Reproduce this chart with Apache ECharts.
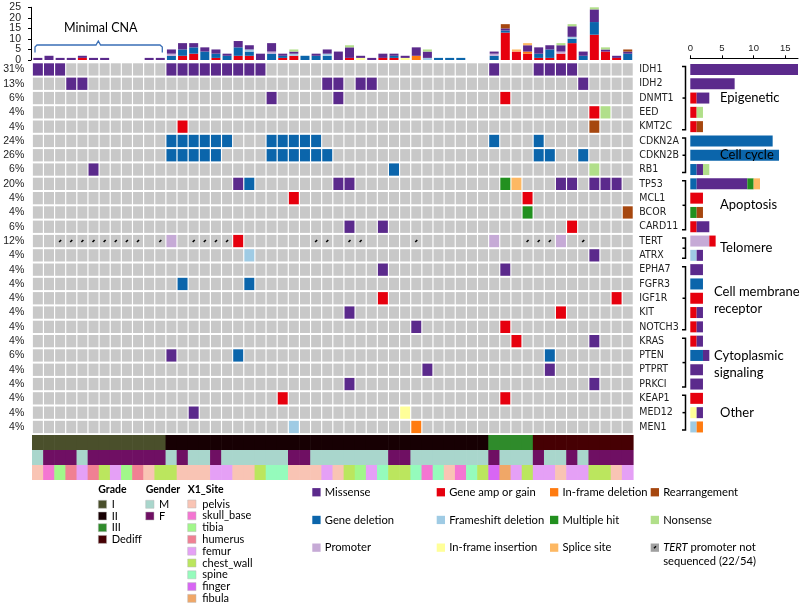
<!DOCTYPE html>
<html><head><meta charset="utf-8">
<script src="https://cdn.jsdelivr.net/npm/echarts@6/dist/echarts.min.js"></script>
<style>html,body{margin:0;padding:0;background:#fff}#c{width:800px;height:606px}</style>
</head><body><div id="c"></div>
<script>
// ---------------- DATA ----------------
const genes = ['IDH1','IDH2','DNMT1','EED','KMT2C','CDKN2A','CDKN2B','RB1','TP53','MCL1','BCOR','CARD11','TERT','ATRX','EPHA7','FGFR3','IGF1R','KIT','NOTCH3','KRAS','PTEN','PTPRT','PRKCI','KEAP1','MED12','MEN1'];
const pctLabels = ['31%','13%','6%','4%','4%','24%','26%','6%','20%','4%','4%','6%','12%','4%','4%','4%','4%','4%','4%','4%','6%','4%','4%','4%','4%','4%'];
const nSamples = 54;
const sampleIds = Array.from({length: nSamples}, (_, i) => 'S' + (i + 1));

// alteration types
const typeKeys = ['MIS','DEL','PRO','AMP','FS','INS','IND','MUL','SPL','REA','NON'];
const typeNames = {MIS:'Missense',DEL:'Gene deletion',PRO:'Promoter',AMP:'Gene amp or gain',FS:'Frameshift deletion',INS:'In-frame insertion',IND:'In-frame deletion',MUL:'Multiple hit',SPL:'Splice site',REA:'Rearrangement',NON:'Nonsense'};
const typeColors = {MIS:'#5b2a8c',DEL:'#0b65ab',PRO:'#c6aad6',AMP:'#e6000e',FS:'#9fcbe4',INS:'#ffff99',IND:'#ff7b10',MUL:'#22901f',SPL:'#fdb863',REA:'#a6470f',NON:'#b1df8a'};

// per-gene alterations: sample (column) indices per type
const geneAlts = [
  {MIS:[0,1,2,12,13,14,15,16,17,18,19,20,41,45,46,47,48]},   // IDH1
  {MIS:[3,4,26,27,29,30,49]},                                 // IDH2
  {AMP:[42], MIS:[21,27]},                                    // DNMT1
  {AMP:[50], NON:[51]},                                       // EED
  {AMP:[13], REA:[50]},                                       // KMT2C
  {DEL:[12,13,14,15,16,17,21,22,23,24,25,41,45]},             // CDKN2A
  {DEL:[12,13,14,15,16,21,22,23,24,25,26,45,46,49]},          // CDKN2B
  {DEL:[32], MIS:[5], NON:[50]},                              // RB1
  {DEL:[19], MIS:[18,27,28,47,48,50,51,52], MUL:[42], SPL:[43]}, // TP53
  {AMP:[23,44]},                                              // MCL1
  {MUL:[44], REA:[53]},                                       // BCOR
  {AMP:[48], MIS:[28,31]},                                    // CARD11
  {PRO:[12,41,47], AMP:[18]},                                 // TERT
  {FS:[19], MIS:[50]},                                        // ATRX
  {MIS:[31,42]},                                              // EPHA7
  {DEL:[13,19]},                                              // FGFR3
  {AMP:[31,52]},                                              // IGF1R
  {AMP:[47], MIS:[28]},                                       // KIT
  {AMP:[42], MIS:[34]},                                       // NOTCH3
  {AMP:[43], MIS:[50]},                                       // KRAS
  {DEL:[18,46], MIS:[12]},                                    // PTEN
  {MIS:[35,46]},                                              // PTPRT
  {MIS:[28,50]},                                              // PRKCI
  {AMP:[22,42]},                                              // KEAP1
  {INS:[33], MIS:[14]},                                       // MED12
  {FS:[23], IND:[34]}                                         // MEN1
];
// TERT promoter not sequenced (22/54)
const tertNotSeq = [2,3,4,5,6,7,8,9,11,14,15,16,17,25,26,28,29,34,44,45,46,49];

// top bar chart: total alterations per sample, by type
const topAMP = [0,0,0,0,1,0,0,0,0,0,0,0, 0,2,3,0,1,0,2,2,0,0,1,2,0,0,0,0,1,0,0,1,1,0,0,0,0,0,0,0,0, 0,13,4,3, 1,1,3,8,0,12,4,1,0];
const topDEL = [0,0,0,0,0,0,0,0,0,0,0,0, 2,3,3,4,2,2,4,2,0,3,1,0,2,2,2,0,0,0,0,0,1,0,0,0,1,1,1,0,0, 2,1,0,0, 2,4,0,2,2,6,0,0,3];
const topFS  = [0,0,0,0,0,0,0,0,0,0,0,0, 0,0,0,0,0,0,0,1,0,0,0,1,0,0,1,0,0,0,0,0,0,0,0,1,0,0,0,0,0, 0,0,0,0, 0,0,0,1,0,0,0,0,0];
const topPRO = [0,0,0,0,0,0,0,0,0,0,0,0, 1,0,0,0,0,0,0,0,0,1,0,0,0,0,0,0,0,0,0,0,0,0,0,0,0,0,0,0,0, 1,0,0,0, 0,0,1,0,0,0,0,0,0];
const topINS = [0,0,0,0,0,0,0,0,0,0,0,0, 0,0,0,0,0,0,0,0,0,0,0,0,0,0,0,0,0,1,0,0,0,1,0,0,0,0,0,0,0, 0,0,0,0, 0,0,0,0,0,0,0,0,0];
const topIND = [0,0,0,0,0,0,0,0,0,0,0,0, 0,0,0,0,0,0,0,0,0,0,0,0,0,0,0,0,0,0,0,0,0,0,2,0,0,0,0,0,0, 0,0,0,1, 0,0,0,0,0,0,0,0,0];
const topMIS = [1,2,1,1,1,1,1,0,0,0,1,1, 2,3,2,2,2,1,3,2,3,4,1,1,0,1,2,4,5,1,1,2,1,1,4,3,0,0,0,0,0, 1,1,0,3, 3,2,3,5,2,6,1,1,1];
const topMUL = [0,0,0,0,0,0,0,0,0,0,0,0, 0,0,0,0,0,0,0,0,0,0,0,0,0,0,0,0,0,0,0,0,0,0,0,0,0,0,0,0,0, 0,0,0,0, 0,0,0,0,0,0,0,0,0];
const topSPL = [0,0,0,0,0,0,0,0,0,0,0,0, 0,0,0,0,0,0,0,0,0,0,0,0,0,0,0,0,0,0,0,0,0,0,0,0,0,0,0,0,0, 0,0,1,1, 0,0,0,0,0,0,0,0,0];
const topNON = [0,0,0,0,0,0,0,0,0,0,0,0, 0,0,0,0,0,0,0,0,0,0,0,1,0,0,0,0,1,0,0,0,0,0,0,1,0,0,0,0,0, 0,0,0,0, 0,0,1,1,0,1,1,0,0];
const topREA = [0,0,0,0,0,0,0,0,0,0,0,0, 0,0,0,0,0,0,0,0,0,0,0,0,0,0,0,0,0,0,0,0,0,0,0,0,0,0,0,0,0, 0,2,0,0, 0,0,0,0,0,1,0,0,1];
const topTicks = [0,5,10,15,20,25];
const rightTicks = [0,5,10,15];

// clinical annotations per sample
const grade = ['I','I','I','I','I','I','I','I','I','I','I','I',
  'II','II','II','II','II','II','II','II','II','II','II','II','II','II','II','II','II','II','II','II','II','II','II','II','II','II','II','II','II',
  'III','III','III','III','Dediff','Dediff','Dediff','Dediff','Dediff','Dediff','Dediff','Dediff','Dediff'];
const gender = ['M','F','F','F','M','F','F','F','F','F','F','F','M','F','M','M','F','M','M','M','M','M','M','F','F',
  'M','M','M','M','M','M','M','F','F','M','M','M','M','M','M','M','F','M','M','M','F','M','M','F','M','F','F','F','F'];
const site = ['pelvis','skull_base','tibia','humerus','femur','humerus','chest_wall','femur','tibia','humerus','pelvis','chest_wall',
  'chest_wall','pelvis','pelvis','pelvis','femur','femur','pelvis','pelvis','chest_wall','spine','spine','pelvis','pelvis','pelvis','femur',
  'pelvis','chest_wall','tibia','femur','spine','chest_wall','chest_wall','spine','skull_base','spine','pelvis','skull_base','spine','chest_wall',
  'finger','fibula','femur','chest_wall','femur','femur','pelvis','femur','femur','chest_wall','chest_wall','pelvis','femur'];
const gradeLevels = ['I','II','III','Dediff'];
const genderLevels = ['M','F'];
const siteLevels = ['pelvis','skull_base','tibia','humerus','femur','chest_wall','spine','finger','fibula'];
const groups = [
  {label:['Epigenetic'], from:0, to:4},
  {label:['Cell cycle'], from:5, to:7},
  {label:['Apoptosis'], from:8, to:11},
  {label:['Telomere'], from:12, to:13},
  {label:['Cell membrane','receptor'], from:14, to:18},
  {label:['Cytoplasmic','signaling'], from:19, to:22},
  {label:['Other'], from:23, to:25}
];

// ---------------- STYLE ----------------
const gradeColors = {I:'#4a4f2b', II:'#170003', III:'#2f8b2b', Dediff:'#460003'};
const genderColors = {M:'#a9d6cc', F:'#6f0f63'};
const siteColors = {pelvis:'#f9c4b4', skull_base:'#f476d2', tibia:'#a1f78a', humerus:'#f08093', femur:'#e5a0f6', chest_wall:'#bbe65e', spine:'#95fbbc', finger:'#d866f4', fibula:'#f0a767'};
const GRAY = '#c8c8c8';
const LAT = 'Lato, "Open Sans", sans-serif';
const ARI = '"Liberation Sans", Arial, sans-serif';
const NAR = '"Liberation Sans Narrow", "DejaVu Sans Condensed", "Liberation Sans", sans-serif';

const G = {left:32.3, width:601, top:62.3, rowH:14.3};
const nRows = genes.length;
const rowCenter = i => G.top + (i + 0.5) * G.rowH;

// ---------------- BUILD ----------------
const topOrder = ['AMP','DEL','FS','PRO','INS','IND','MIS','MUL','SPL','NON','REA'];
const topArrays = {AMP:topAMP,DEL:topDEL,FS:topFS,PRO:topPRO,INS:topINS,IND:topIND,MIS:topMIS,MUL:topMUL,SPL:topSPL,NON:topNON,REA:topREA};
const rightOrder = ['PRO','FS','INS','DEL','AMP','MIS','MUL','NON','SPL','IND','REA'];

const cellData = [];
for (let r = 0; r < nRows; r++) {
  const colType = {};
  Object.keys(geneAlts[r]).forEach(t => geneAlts[r][t].forEach(c => colType[c] = t));
  for (let c = 0; c < nSamples; c++) {
    const t = colType[c];
    cellData.push({value:[c, r], itemStyle:{color: t ? typeColors[t] : GRAY}});
  }
}
const tertRow = genes.indexOf('TERT');
const nsData = tertNotSeq.map(c => [c, tertRow]);

const trackData = [];
for (let c = 0; c < nSamples; c++) {
  trackData.push({value:[c,0], itemStyle:{color:gradeColors[grade[c]]}});
  trackData.push({value:[c,1], itemStyle:{color:genderColors[gender[c]]}});
  trackData.push({value:[c,2], itemStyle:{color:siteColors[site[c]]}});
}

function renderCell(params, api) {
  const p = api.coord([api.value(0), api.value(1)]);
  const s = api.size([1, 1]);
  const w = s[0] - 1.15, h = s[1] - 2;
  return {type:'rect', shape:{x:p[0]-w/2, y:p[1]-h/2, width:w, height:h}, style:{fill:api.visual('color')}};
}
function renderNS(params, api) {
  const p = api.coord([api.value(0), api.value(1)]);
  return {type:'line', shape:{x1:p[0]-1, y1:p[1]+1, x2:p[0]+1, y2:p[1]-1}, style:{stroke:'#000', lineWidth:1.6}};
}
function renderTrack(params, api) {
  const p = api.coord([api.value(0), api.value(1)]);
  const s = api.size([1, 1]);
  const w = s[0] + 0.6, h = s[1];
  return {type:'rect', shape:{x:p[0]-w/2, y:p[1]-h/2, width:w, height:h}, style:{fill:api.visual('color')}};
}

const series = [];
topOrder.forEach(t => {
  series.push({type:'bar', name:typeNames[t], stack:'top', xAxisIndex:0, yAxisIndex:0, barWidth:9,
    itemStyle:{color:typeColors[t]}, data:topArrays[t], silent:true});
});
series.push({type:'custom', xAxisIndex:1, yAxisIndex:1, renderItem:renderCell, data:cellData, silent:true});
series.push({type:'custom', xAxisIndex:1, yAxisIndex:1, renderItem:renderNS, data:nsData, silent:true, z:5});
rightOrder.forEach(t => {
  const d = geneAlts.map(g => g[t] ? g[t].length : 0);
  series.push({type:'bar', name:typeNames[t]+'_r', stack:'right', xAxisIndex:2, yAxisIndex:3, barWidth:11,
    itemStyle:{color:typeColors[t]}, data:d, silent:true});
});
series.push({type:'custom', xAxisIndex:3, yAxisIndex:4, renderItem:renderTrack, data:trackData, silent:true});

// graphics (annotations and legends)
const graphic = [];
const CNA = '#3a6fb6';
graphic.push({type:'text', left:64, top:21, style:{text:'Minimal CNA', font:'12.5px '+LAT, fill:'#000'}});
graphic.push({type:'polyline', shape:{points:[[35,52.5],[35,47],[37,45],[96,45],[98.3,41],[100.6,45],[160,45],[162.3,47],[162.3,52.5]]}, style:{stroke:CNA, lineWidth:1.3, fill:null}});

groups.forEach(g => {
  const y1 = rowCenter(g.from) - 3, y2 = rowCenter(g.to) + 3, ym = (rowCenter(g.from) + rowCenter(g.to)) / 2;
  graphic.push({type:'polyline', shape:{points:[[682,y1],[685.5,y1],[685.5,y2],[682,y2]]}, style:{stroke:'#000', lineWidth:1.5, fill:null}});
  graphic.push({type:'line', shape:{x1:682.5, y1:ym, x2:685.5, y2:ym}, style:{stroke:'#000', lineWidth:1.5}});
  const lx = g.label.length > 1 ? 714 : 720;
  const lh = 17;
  g.label.forEach((t, k) => {
    const yy = ym + (k - (g.label.length - 1) / 2) * lh + (g.label.length > 1 ? 2 : 0);
    graphic.push({type:'text', x:lx, y:yy, style:{text:t, font:'13px '+LAT, fill:'#000', textVerticalAlign:'middle'}, z:100});
  });
});

function legendBlock(title, x, levels, colors, y0, pitch, labelDx) {
  graphic.push({type:'text', x:x, y:490, style:{text:title, font:'bold 10.5px '+LAT, fill:'#000', textVerticalAlign:'middle'}});
  levels.forEach((lv, k) => {
    const yc = y0 + k * pitch;
    graphic.push({type:'rect', shape:{x:x, y:yc-4, width:8.3, height:8}, style:{fill:colors[lv], stroke:'#bbb', lineWidth:0.5}});
    graphic.push({type:'text', x:x+labelDx, y:yc, style:{text:lv, font:'11px '+LAT, fill:'#000', textVerticalAlign:'middle'}});
  });
}
legendBlock('Grade', 98.3, gradeLevels, gradeColors, 504.3, 11.7, 13.4);
legendBlock('Gender', 145.7, genderLevels, genderColors, 504.3, 11.7, 13.4);
legendBlock('X1_Site', 187.7, siteLevels, siteColors, 504, 11.8, 14.6);

const legLayout = [
  ['MIS',312.3,492.3],['AMP',436.7,492.3],['IND',550,492.3],['REA',650.7,492.3],
  ['DEL',312.3,520],['FS',436.7,520],['MUL',550,520],['NON',650.7,520],
  ['PRO',312.3,547.7],['INS',436.7,547.7],['SPL',550,547.7]
];
const legFont = '11.2px ' + LAT;
legLayout.forEach(([t, x, y]) => {
  graphic.push({type:'rect', shape:{x:x, y:y-4.2, width:8.3, height:8.3}, style:{fill:typeColors[t]}});
  graphic.push({type:'text', x:x+12.5, y:y, style:{text:typeNames[t], font:legFont, fill:'#000', textVerticalAlign:'middle'}});
});
graphic.push({type:'rect', shape:{x:650.7, y:547.7-4.2, width:8.3, height:8.3}, style:{fill:'#a0a0a0'}});
graphic.push({type:'line', shape:{x1:654, y1:548.3, x2:656, y2:546.3}, style:{stroke:'#000', lineWidth:1.5}});
graphic.push({type:'text', x:663.2, y:547.7, style:{text:'{i|TERT} promoter not', font:legFont, fill:'#000', textVerticalAlign:'middle',
  rich:{i:{fontStyle:'italic', fontFamily:LAT, fontSize:11.2, fill:'#000'}}}});
graphic.push({type:'text', x:663.2, y:561.3, style:{text:'sequenced (22/54)', font:legFont, fill:'#000', textVerticalAlign:'middle'}});

const option = {
  animation:false,
  backgroundColor:'#fff',
  grid:[
    {left:G.left, width:G.width, top:7.3, height:52.7},
    {left:G.left, width:G.width, top:G.top, height:G.rowH*nRows},
    {left:690.3, width:107.7, top:G.top, height:G.rowH*nRows},
    {left:G.left, width:G.width, top:435, height:45}
  ],
  xAxis:[
    {type:'category', gridIndex:0, data:sampleIds, show:false},
    {type:'category', gridIndex:1, data:sampleIds, show:false},
    {type:'value', gridIndex:2, position:'top', min:0, max:17, offset:4,
      axisLine:{show:true, lineStyle:{color:'#000', width:1}},
      axisTick:{show:true, length:3, customValues:rightTicks, lineStyle:{color:'#000'}},
      axisLabel:{customValues:rightTicks, fontSize:9.5, fontFamily:ARI, color:'#222', margin:5},
      splitLine:{show:false}},
    {type:'category', gridIndex:3, data:sampleIds, show:false}
  ],
  yAxis:[
    {type:'value', gridIndex:0, min:0, max:25, interval:5, offset:1.3,
      axisLine:{show:true, lineStyle:{color:'#000'}},
      axisTick:{show:true, length:3, customValues:topTicks, lineStyle:{color:'#000'}},
      axisLabel:{show:false},
      splitLine:{show:false}},
    {type:'category', gridIndex:1, data:genes, inverse:true, position:'left',
      axisLine:{show:false}, axisTick:{show:false},
      axisLabel:{formatter:(v, i) => pctLabels[i], fontSize:10.5, fontFamily:ARI, color:'#222', margin:8}},
    {type:'category', gridIndex:1, data:genes, inverse:true, position:'right',
      axisLine:{show:false}, axisTick:{show:false},
      axisLabel:{fontSize:10.5, fontFamily:NAR, color:'#222', margin:6}},
    {type:'category', gridIndex:2, data:genes, inverse:true, show:false},
    {type:'category', gridIndex:3, data:['Grade','Gender','X1_Site'], inverse:true, show:false}
  ],
  series:series,
  graphic:graphic
};
const chart = echarts.init(document.getElementById('c'), null, {width:800, height:606});
chart.setOption(option);
// tick labels of the top count axis, placed through the axis scale (labels are tightly packed, so avoid auto-hiding)
const tickLabels = topTicks.map(v => {
  const py = chart.convertToPixel({yAxisIndex:0}, v);
  return {type:'text', x:21, y:py, style:{text:String(v), font:'10.5px '+ARI, fill:'#222', textAlign:'right', textVerticalAlign:'middle'}};
});
chart.setOption({graphic: graphic.concat(tickLabels)});
</script>
</body></html>
